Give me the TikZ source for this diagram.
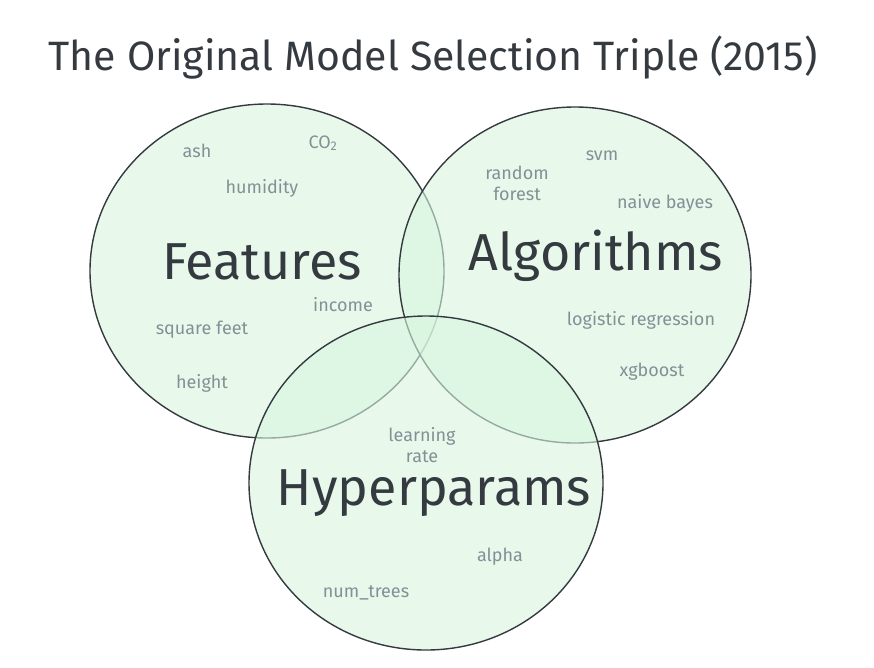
\documentclass[tikz,border=0pt]{standalone}
\usepackage{fontspec}
\setmainfont{Fira Sans}
\definecolor{vfill}{HTML}{D8F5DF}
\definecolor{vline}{HTML}{343A40}
\definecolor{lab}{HTML}{868E96}
\begin{document}
\begin{tikzpicture}[x=1pt,y=-1pt,
  setc/.style={draw=vline,line width=1.4pt,fill=vfill,fill opacity=0.6},
  big/.style={font=\fontsize{52}{56}\selectfont,text=vline},
  small/.style={font=\fontsize{18}{21}\selectfont,text=lab,align=center}]
\useasboundingbox (0,0) rectangle (874,667);
\node[font=\fontsize{41}{46}\selectfont,text=vline] (title) at (433,58) {The Original Model Selection Triple (2015)};
\path[setc] (267,271) ellipse [x radius=177,y radius=167];
\path[setc] (575,275) ellipse [x radius=176,y radius=168];
\path[setc] (426,483) ellipse [x radius=177,y radius=167];
\node[big] (f) at (262,262) {Features};
\node[big] (a) at (596,256) {Algorithms};
\node[big] (h) at (434,493) {Hyperparams};
\node[small] (n1) at (197,151) {ash};
\node[small] (n2) at (323,143) {CO\textsubscript{2}};
\node[small] (n3) at (262,188) {humidity};
\node[small] (n4) at (343,305) {income};
\node[small] (n5) at (202,330) {square feet};
\node[small] (n6) at (202,383) {height};
\node[small] (n7) at (517,183) {random\\forest};
\node[small] (n8) at (602,156) {svm};
\node[small] (n9) at (665,203) {naive bayes};
\node[small] (n10) at (641,320) {logistic regression};
\node[small] (n11) at (652,372) {xgboost};
\node[small] (n12) at (422,445) {learning\\rate};
\node[small] (n13) at (500,557) {alpha};
\node[small] (n14) at (366,593) {num\_trees};
\end{tikzpicture}
\end{document}
